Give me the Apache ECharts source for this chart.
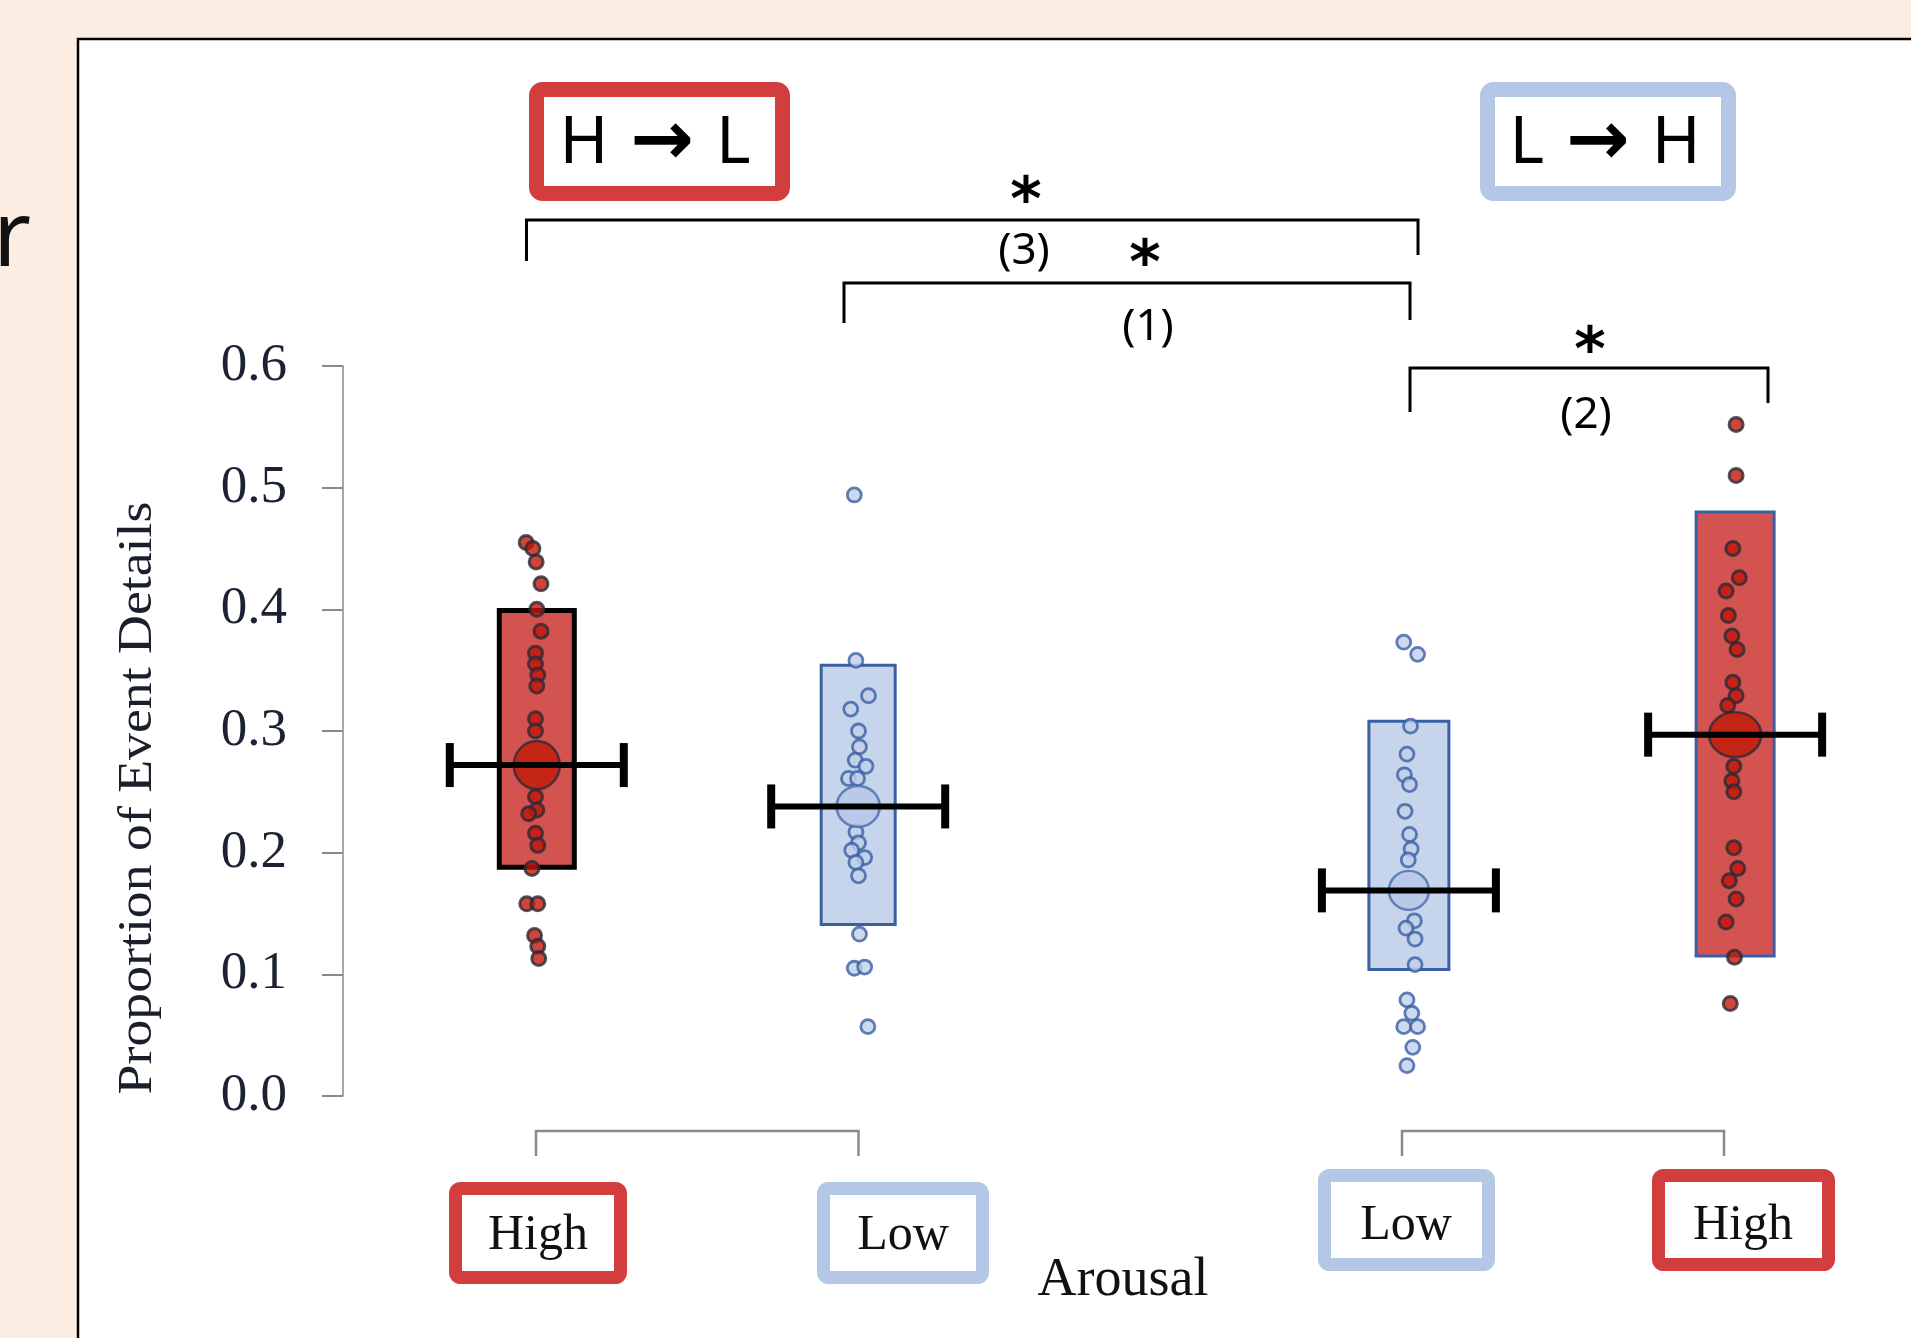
<!DOCTYPE html>
<html><head><meta charset="utf-8">
<script src="https://cdn.jsdelivr.net/npm/echarts@6/dist/echarts.min.js"></script>
<style>html,body{margin:0;padding:0;background:#FBEDE2}#c{width:1911px;height:1338px}</style>
</head><body><div id="c"></div>
<script>
// ---- data ----
const groupNames = ['H→L High', 'H→L Low', 'L→H Low', 'L→H High'];
const groupX = [1, 1.995, 3.7, 4.71];
const boxLow = [0.188, 0.141, 0.104, 0.115];
const boxHigh = [0.399, 0.354, 0.308, 0.480];
const means = [0.272, 0.238, 0.169, 0.297];

const g1Values = [0.455,0.450,0.439,0.421,0.400,0.382,0.364,0.355,0.346,0.337,0.310,0.300,0.246,0.235,0.232,0.216,0.206,0.187,0.158,0.158,0.132,0.123,0.113];
const g1Jitter = [-0.033,-0.012,-0.002,0.013,0,0.013,-0.004,-0.004,0.003,0,-0.004,-0.004,-0.004,0,-0.025,-0.004,0.003,-0.015,-0.031,0.003,-0.007,0.003,0.006];
const g2Values = [0.494,0.358,0.329,0.318,0.300,0.287,0.276,0.271,0.261,0.261,0.217,0.208,0.202,0.196,0.192,0.181,0.133,0.105,0.106,0.057];
const g2Jitter = [-0.012,-0.007,0.032,-0.023,0.001,0.004,-0.009,0.024,-0.030,-0.002,-0.007,0.001,-0.020,0.020,-0.007,0.001,0.004,-0.012,0.020,0.030];
const g3Values = [0.373,0.363,0.304,0.281,0.264,0.256,0.234,0.215,0.203,0.194,0.144,0.138,0.129,0.108,0.079,0.068,0.057,0.057,0.040,0.025];
const g3Jitter = [-0.016,0.027,0.005,-0.006,-0.014,0.002,-0.012,0.002,0.007,-0.002,0.017,-0.009,0.019,0.019,-0.006,0.009,-0.016,0.027,0.012,-0.006];
const g4Values = [0.552,0.510,0.450,0.426,0.415,0.395,0.378,0.367,0.340,0.329,0.321,0.271,0.259,0.250,0.204,0.187,0.177,0.162,0.143,0.114,0.076];
const g4Jitter = [0.003,0.003,-0.007,0.013,-0.028,-0.021,-0.010,0.006,-0.007,0.003,-0.023,-0.004,-0.010,-0.004,-0.004,0.008,-0.018,0.003,-0.028,-0.002,-0.015];

const yTickLabels = ['0.0','0.1','0.2','0.3','0.4','0.5','0.6'];
const xLabels = ['High','Low','Low','High'];
const conditionLabels = [['H','L'],['L','H']];
const comparisonLabels = ['(3)','(1)','(2)'];
const yTitle = 'Proportion of Event Details';
const xTitle = 'Arousal';

// ---- styles ----
const RED = '#D25350', BLUE_FILL = '#C6D4EC', BLUE_LINE = '#3A5FA3';
const RED_FRAME = '#D23E3E', BLUE_FRAME = '#B4C7E7';
const boxStyles = [
  {fill: RED, stroke: '#000', lw: 5, w: 75},
  {fill: BLUE_FILL, stroke: BLUE_LINE, lw: 3, w: 74},
  {fill: BLUE_FILL, stroke: BLUE_LINE, lw: 3, w: 80},
  {fill: RED, stroke: BLUE_LINE, lw: 3, w: 78}
];
const meanStyles = [
  {size: [46, 48], color: '#C01A05', border: '#2A2A36'},
  {size: [43, 41], color: '#B5C7E7', border: '#4A6BAA'},
  {size: [40, 39], color: '#B5C7E7', border: '#4A6BAA'},
  {size: [52, 45], color: '#C01A05', border: '#2A2A36'}
];
const redDot = {color: '#C0170A', borderColor: '#2A2A36', borderWidth: 3};
const blueDot = {color: '#BFCFEA', borderColor: BLUE_LINE, borderWidth: 2.8};

function dotSeries(vals, jit, gi, style) {
  return {
    type: 'scatter', name: groupNames[gi], z: 3, symbol: 'circle', symbolSize: 14,
    data: vals.map((v, k) => [groupX[gi] + jit[k], v]),
    itemStyle: style, emphasis: {disabled: true}, silent: true
  };
}

const chart = echarts.init(document.getElementById('c'));
const serif = 'Liberation Serif, Times New Roman, serif';

const graphics = [
  {type: 'rect', z: -100, shape: {x: 78, y: 39, width: 2000, height: 2000},
   style: {fill: '#fff', stroke: '#000', lineWidth: 2.5}},
  {type: 'text', z: 100, x: -7, y: 240, style: {text: 'r', font: '92px Noto Sans', fill: '#111', textAlign: 'left', textVerticalAlign: 'middle'}},
  // condition frames
  {type: 'rect', z: 100, shape: {x: 536.5, y: 89.5, width: 246, height: 104, r: 6}, style: {fill: '#fff', stroke: RED_FRAME, lineWidth: 15}},
  {type: 'rect', z: 100, shape: {x: 1487.5, y: 89.5, width: 241, height: 104, r: 6}, style: {fill: '#fff', stroke: BLUE_FRAME, lineWidth: 15}},
  // significance brackets
  {type: 'polyline', z: 100, shape: {points: [[526.5,261],[526.5,220],[1418,220],[1418,255]]}, style: {stroke: '#000', lineWidth: 3, fill: null}},
  {type: 'polyline', z: 100, shape: {points: [[844,323],[844,283],[1410,283],[1410,320]]}, style: {stroke: '#000', lineWidth: 3, fill: null}},
  {type: 'polyline', z: 100, shape: {points: [[1410,412],[1410,368],[1768,368],[1768,403]]}, style: {stroke: '#000', lineWidth: 3, fill: null}},
  // bottom pairing brackets
  {type: 'polyline', z: 100, shape: {points: [[536,1156],[536,1131],[858.5,1131],[858.5,1156]]}, style: {stroke: '#8a8a8a', lineWidth: 2.5, fill: null}},
  {type: 'polyline', z: 100, shape: {points: [[1402,1156],[1402,1131],[1724,1131],[1724,1156]]}, style: {stroke: '#8a8a8a', lineWidth: 2.5, fill: null}},
  // bottom label frames
  {type: 'rect', z: 100, shape: {x: 455.5, y: 1188.5, width: 165, height: 89, r: 5}, style: {fill: '#fff', stroke: RED_FRAME, lineWidth: 13}},
  {type: 'rect', z: 100, shape: {x: 823.5, y: 1188.5, width: 159, height: 89, r: 5}, style: {fill: '#fff', stroke: BLUE_FRAME, lineWidth: 13}},
  {type: 'rect', z: 100, shape: {x: 1324.5, y: 1175.5, width: 164, height: 89, r: 5}, style: {fill: '#fff', stroke: BLUE_FRAME, lineWidth: 13}},
  {type: 'rect', z: 100, shape: {x: 1658.5, y: 1175.5, width: 170, height: 89, r: 5}, style: {fill: '#fff', stroke: RED_FRAME, lineWidth: 13}}
];
const condPos = [[655, 144], [1605, 144]];
conditionLabels.forEach((c, i) => {
  graphics.push({type: 'text', z: 101, x: condPos[i][0], y: condPos[i][1], style: {
    text: '{a|' + c[0] + '}{b|→}{a|' + c[1] + '}',
    textAlign: 'center', textVerticalAlign: 'middle',
    rich: {a: {fontFamily: 'Noto Sans', fontSize: 66, fill: '#000'},
           b: {fontFamily: 'DejaVu Sans', fontWeight: 'bold', fontSize: 76, fill: '#000', padding: [0, 22, 0, 22]}}
  }});
});
const starPos = [[1026, 204], [1145, 267], [1590, 354]];
const parenPos = [[1024, 251], [1148, 327], [1586, 415]];
comparisonLabels.forEach((t, i) => {
  graphics.push({type: 'text', z: 101, x: starPos[i][0], y: starPos[i][1], style: {text: '*', font: 'bold 60px DejaVu Sans', fill: '#000', textAlign: 'center', textVerticalAlign: 'middle'}});
  graphics.push({type: 'text', z: 101, x: parenPos[i][0], y: parenPos[i][1], style: {text: t, font: '44px Noto Sans', fill: '#000', textAlign: 'center', textVerticalAlign: 'middle'}});
});
const xLabelPos = [[538, 1236], [903, 1236], [1406, 1226], [1743, 1226]];
xLabels.forEach((t, i) => {
  graphics.push({type: 'text', z: 101, x: xLabelPos[i][0], y: xLabelPos[i][1], style: {text: t, font: '50px ' + serif, fill: '#111', textAlign: 'center', textVerticalAlign: 'middle'}});
});
graphics.push({type: 'text', z: 101, x: 1123, y: 1281, style: {text: xTitle, font: '54px ' + serif, fill: '#111', textAlign: 'center', textVerticalAlign: 'middle'}});
graphics.push({type: 'text', z: 101, x: 138, y: 798, rotation: Math.PI / 2, scaleX: 1.12, style: {text: yTitle, font: '48px ' + serif, fill: '#1a1f2c', textAlign: 'center', textVerticalAlign: 'middle'}});

chart.setOption({
  animation: false,
  backgroundColor: '#FBEDE2',
  grid: {left: 343, right: 17.6, top: 366, bottom: 242, containLabel: false, outerBoundsMode: 'none'},
  xAxis: {type: 'value', min: 0.4, max: 5.2, show: false},
  yAxis: {
    type: 'value', min: 0, max: 0.6, interval: 0.1,
    axisLine: {show: true, lineStyle: {color: '#8a8a8a', width: 1.5}},
    axisTick: {show: true, length: 21, lineStyle: {color: '#8a8a8a', width: 2}},
    splitLine: {show: false},
    axisLabel: {margin: 56, fontFamily: serif, fontSize: 53, color: '#1c2233',
      formatter: v => yTickLabels[Math.round(v * 10)]}
  },
  graphic: graphics,
  series: [
    {
      type: 'custom', name: 'range', z: 2, silent: true,
      encode: {x: 0, y: [1, 2]},
      data: groupX.map((x, i) => [x, boxLow[i], boxHigh[i], i]),
      renderItem: (p, api) => {
        const i = api.value(3), s = boxStyles[i];
        const top = api.coord([api.value(0), api.value(2)]);
        const bot = api.coord([api.value(0), api.value(1)]);
        return {type: 'rect', shape: {x: top[0] - s.w / 2, y: top[1], width: s.w, height: bot[1] - top[1]},
          style: {fill: s.fill, stroke: s.stroke, lineWidth: s.lw}};
      }
    },
    dotSeries(g1Values, g1Jitter, 0, redDot),
    dotSeries(g2Values, g2Jitter, 1, blueDot),
    dotSeries(g3Values, g3Jitter, 2, blueDot),
    dotSeries(g4Values, g4Jitter, 3, redDot),
    {
      type: 'scatter', name: 'mean', z: 4, symbol: 'circle', silent: true,
      data: groupX.map((x, i) => ({value: [x, means[i]], symbolSize: meanStyles[i].size,
        itemStyle: {color: meanStyles[i].color, borderColor: meanStyles[i].border, borderWidth: 2.5}})),
      emphasis: {disabled: true}
    },
    {
      type: 'custom', name: 'error', z: 5, silent: true,
      encode: {x: 0, y: 1},
      data: groupX.map((x, i) => [x, means[i]]),
      renderItem: (p, api) => {
        const c = api.coord([api.value(0), api.value(1)]);
        const hw = 87, ch = 22;
        return {type: 'group', children: [
          {type: 'line', shape: {x1: c[0] - hw, y1: c[1], x2: c[0] + hw, y2: c[1]}, style: {stroke: '#000', lineWidth: 6}},
          {type: 'line', shape: {x1: c[0] - hw, y1: c[1] - ch, x2: c[0] - hw, y2: c[1] + ch}, style: {stroke: '#000', lineWidth: 8}},
          {type: 'line', shape: {x1: c[0] + hw, y1: c[1] - ch, x2: c[0] + hw, y2: c[1] + ch}, style: {stroke: '#000', lineWidth: 8}}
        ]};
      }
    }
  ]
});
</script></body></html>
